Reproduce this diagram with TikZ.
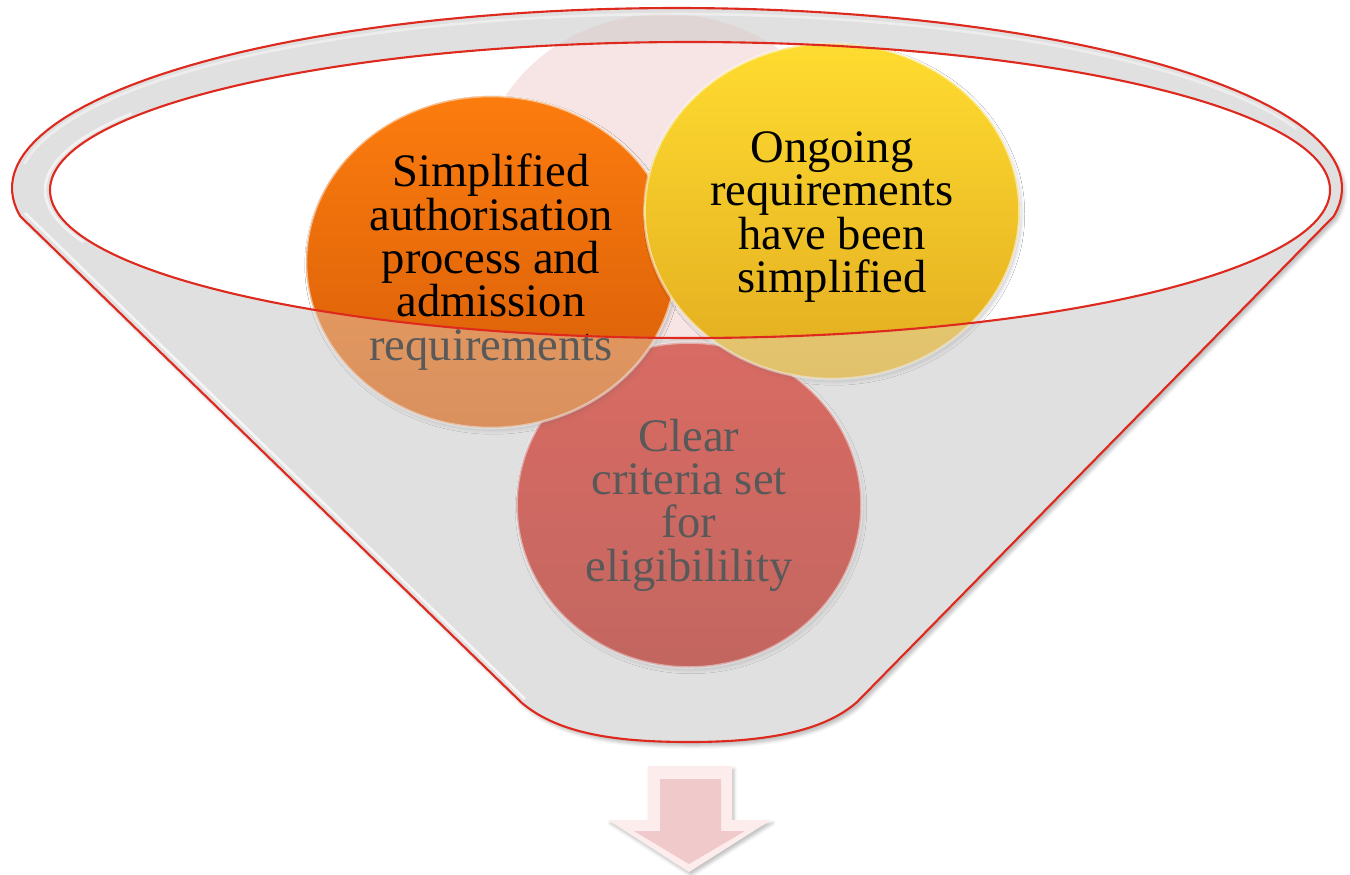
\documentclass[tikz,border=0pt]{standalone}
\usepackage{fontspec}
\setmainfont{Liberation Serif}
\usetikzlibrary{shapes.geometric,shadows.blur}

\definecolor{funnelgrey}{RGB}{224,224,224}
\definecolor{rimred}{RGB}{222,42,30}
\definecolor{pinkback}{RGB}{228,170,168}
\definecolor{orangetop}{RGB}{252,124,14}
\definecolor{orangebot}{RGB}{214,92,8}
\definecolor{yellowtop}{RGB}{255,220,48}
\definecolor{yellowbot}{RGB}{226,172,32}
\definecolor{redtop}{RGB}{212,30,16}
\definecolor{redbot}{RGB}{176,22,12}
\definecolor{arrowpale}{RGB}{252,236,236}
\definecolor{arrowpink}{RGB}{240,201,202}

\tikzset{
  ball/.style={ellipse, inner sep=0pt, align=center, text=black,
    font=\fontsize{26.5}{24.7}\selectfont,
    draw=white, draw opacity=0.5, line width=1.5pt,
    blur shadow={shadow xshift=0.4mm, shadow yshift=-0.6mm, shadow opacity=20}},
  balltext/.style={align=center, text=black, font=\fontsize{26.5}{24.7}\selectfont},
}

\begin{document}
\begin{tikzpicture}[x=0.2mm,y=-0.2mm]
    \useasboundingbox (0,0) rectangle (1350,874);
    % funnel, back part
    \fill[funnelgrey, blur shadow={shadow xshift=0.6mm, shadow yshift=-0.8mm, shadow opacity=25}]
        plot[domain=-9:189, samples=100] ({677+665*cos(\x)},{188-180*sin(\x)})
        -- (522,703) .. controls (560,735) and (620,742) .. (690,742)
        .. controls (760,742) and (822,733) .. (857,702) -- cycle;
    \fill[white] (690,190) ellipse [x radius=640, y radius=148];
    % faint circle at the back
    \fill[pinkback, opacity=0.3] (665,180) ellipse [x radius=185, y radius=166];
    % circles
    \node[ball, top color=redtop, bottom color=redbot, minimum width=69mm, minimum height=65mm]
        (criteria) at (689,505) {Clear\\criteria set\\for\\eligibilility};
    \node[ball, top color=orangetop, bottom color=orangebot, minimum width=74mm, minimum height=66.4mm]
        (authorisation) at (491,262) {Simplified\\authorisation\\process and\\admission\\requirements};
    \node[ball, top color=yellowtop, bottom color=yellowbot, minimum width=75mm, minimum height=67.2mm]
        (ongoing) at (832,211) {};
    \node[balltext] (ongoingtext) at ([yshift=-1.2mm]ongoing.center)
        {Ongoing\\requirements\\have been\\simplified};
    % funnel, front part over the circles
    \draw[rimred, line width=1.2pt, fill=funnelgrey, fill opacity=0.4, even odd rule]
        plot[domain=-9:189, samples=100] ({677+665*cos(\x)},{188-180*sin(\x)})
        -- (522,703) .. controls (560,735) and (620,742) .. (690,742)
        .. controls (760,742) and (822,733) .. (857,702) -- cycle
        (690,190) ellipse [x radius=640, y radius=148];
    % highlights on the rim
    \draw[white, line width=1.5pt, opacity=0.45]
        plot[domain=20:172, samples=60] ({677+659*cos(\x)},{188-174*sin(\x)});
    \draw[white, line width=1.5pt, opacity=0.6]
        plot[domain=150:200, samples=30] ({690+645*cos(\x)},{190-153*sin(\x)});
    \draw[white, line width=1.5pt, opacity=0.7] (25,213) -- (525,699);
    % arrow below the funnel
    \fill[arrowpale, blur shadow={shadow xshift=0.4mm, shadow yshift=-0.6mm, shadow opacity=25}]
        (648,766) -- (732,766) -- (732,820) -- (771,820) -- (689,872) -- (608,820) -- (648,820) -- cycle;
    \fill[arrowpink]
        (660,779) -- (721,779) -- (721,831) -- (745,831) -- (689,864) -- (634,831) -- (660,831) -- cycle;
\end{tikzpicture}
\end{document}
